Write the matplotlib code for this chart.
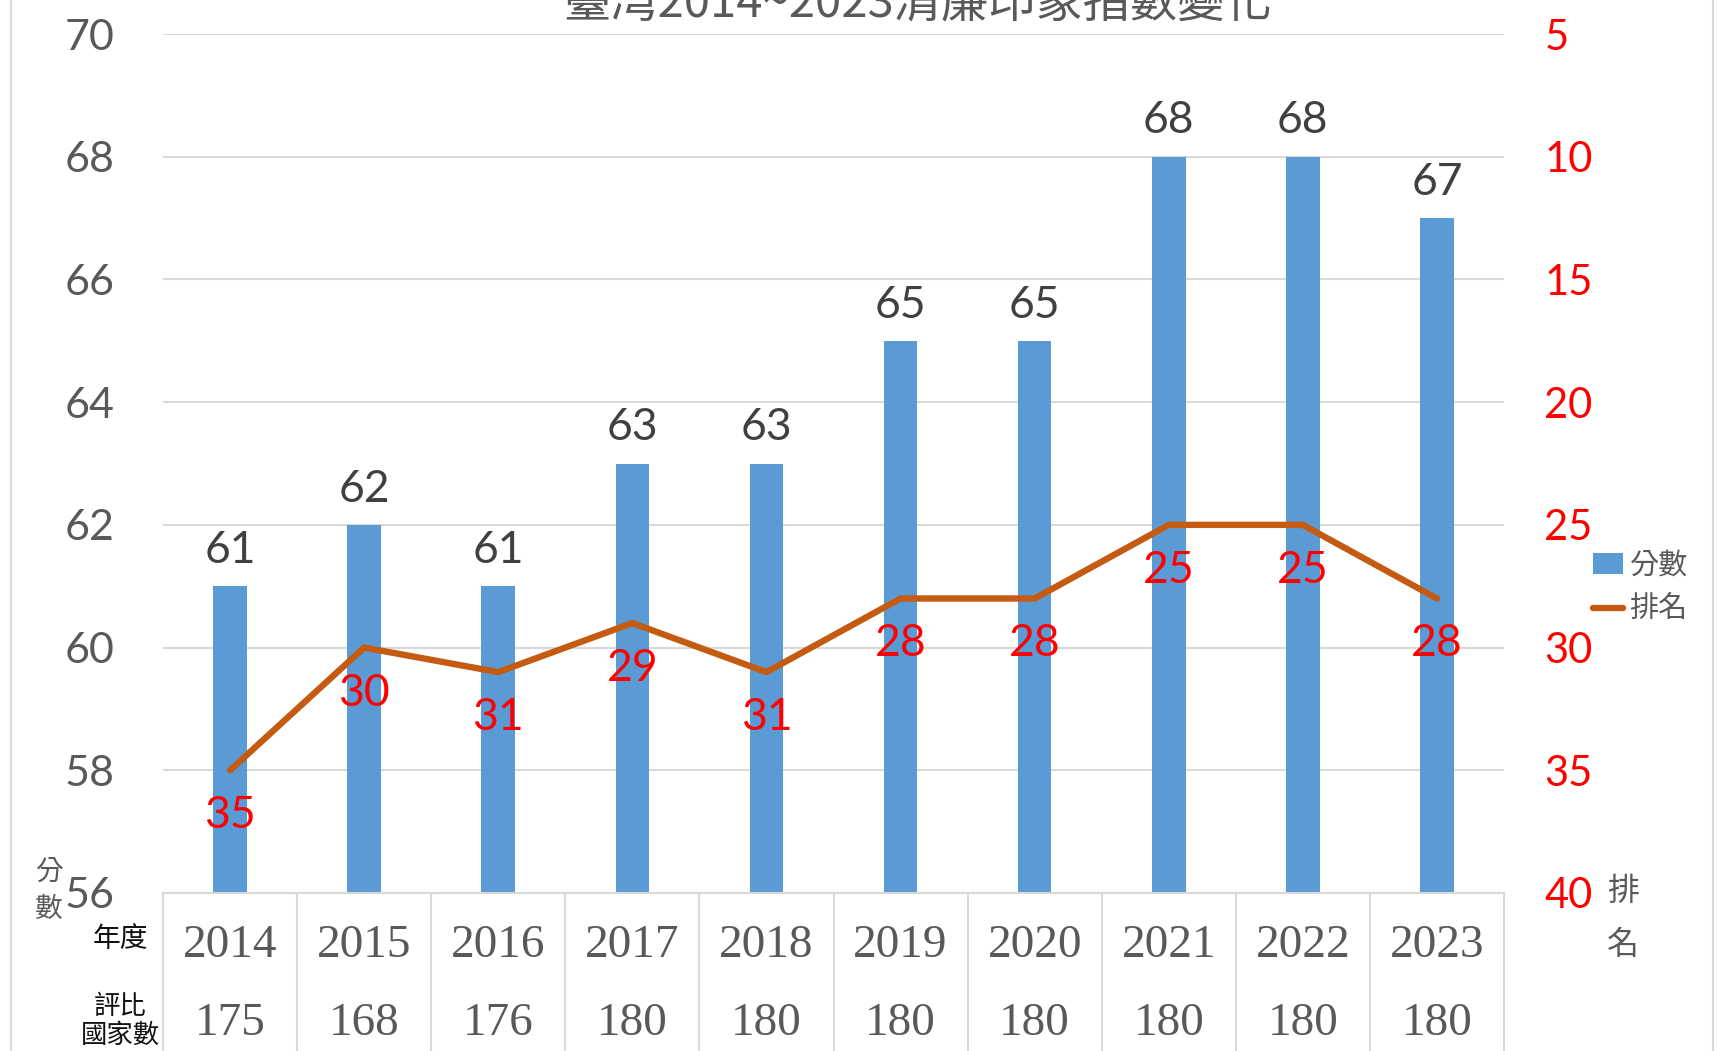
import matplotlib
matplotlib.use("Agg")
import matplotlib.pyplot as plt
from matplotlib.lines import Line2D
import matplotlib.transforms as mtransforms

years = ["2014", "2015", "2016", "2017", "2018", "2019", "2020", "2021", "2022", "2023"]
scores = [61, 62, 61, 63, 63, 65, 65, 68, 68, 67]
ranks = [35, 30, 31, 29, 31, 28, 28, 25, 25, 28]
countries = [175, 168, 176, 180, 180, 180, 180, 180, 180, 180]
title = "臺湾2014~2023清廉印象指數變化"

W, H = 1717, 1051
fig = plt.figure(figsize=(W / 100, H / 100), dpi=100)
fig.patch.set_facecolor("white")

CJK = ["Noto Sans CJK TC", "DejaVu Sans"]
NUM = ["Lato", "DejaVu Sans"]
SERIF = ["Liberation Serif", "DejaVu Serif"]
GRAY = "#595959"
DARK = "#404040"
BLUE = "#5B9BD5"
ORANGE = "#C55A11"
GRID = "#D9D9D9"

left, right, top, bottom = 163, 1504, 34, 893
ax = fig.add_axes([left / W, 1 - bottom / H, (right - left) / W, (bottom - top) / H])
x = list(range(len(years)))

ax.set_xlim(-0.5, len(years) - 0.5)
ax.yaxis.grid(True, color=GRID, lw=1.5)
ax.set_axisbelow(True)
bars = ax.bar(x, scores, width=0.25, color=BLUE, zorder=2, label="分數")
ax.set_ylim(56, 70)
ax.set_yticks(range(56, 71, 2))
ax.set_xticks([])
for s in ["top", "left", "right"]:
    ax.spines[s].set_visible(False)
ax.spines["bottom"].set_color(GRID)
ax.spines["bottom"].set_linewidth(1.5)
ax.tick_params(axis="y", length=0, pad=35, labelsize=31, labelcolor=GRAY)
for lab in ax.get_yticklabels():
    lab.set_family(NUM)

for xi, s in zip(x, scores):
    ax.annotate(str(s), (xi, s), xytext=(0, 11), textcoords="offset points",
                ha="center", va="bottom", fontsize=32, color=DARK, family=NUM)

ax2 = ax.twinx()
ax2.set_ylim(40, 5)
ax2.set_yticks(range(5, 41, 5))
line, = ax2.plot(x, ranks, color=ORANGE, lw=4.6, solid_capstyle="round", zorder=3, label="排名")
for s in ["top", "left", "right", "bottom"]:
    ax2.spines[s].set_visible(False)
ax2.tick_params(axis="y", length=0, pad=29, labelsize=30, labelcolor="#FF0000")
for lab in ax2.get_yticklabels():
    lab.set_family(NUM)
for xi, r in zip(x, ranks):
    ax2.annotate(str(r), (xi, r), xytext=(0, -18), textcoords="offset points",
                 ha="center", va="top", fontsize=32, color="#FF0000", family=NUM)

# table below
trans = mtransforms.blended_transform_factory(ax.transData, ax.transAxes)
for b in [i - 0.5 for i in range(len(years) + 1)]:
    ax.add_line(Line2D([b, b], [0, -0.3], transform=trans, color=GRID, lw=1.5, clip_on=False))
y_year = (bottom - 946) / (bottom - top)
y_cnt = (bottom - 1024) / (bottom - top)
for xi, yr, c in zip(x, years, countries):
    ax.text(xi, y_year, yr, transform=trans, ha="center", va="center", fontsize=34,
            color=GRAY, family=SERIF, clip_on=False)
    ax.text(xi, y_cnt, str(c), transform=trans, ha="center", va="center", fontsize=34,
            color=GRAY, family=SERIF, clip_on=False)

fig.text(120 / W, 1 - 939 / H, "年度", ha="center", va="center", fontsize=20, color="#111111", family=CJK)
fig.text(120 / W, 1 - 1006 / H, "評比", ha="center", va="center", fontsize=19, color="#111111", family=CJK)
fig.text(120 / W, 1 - 1035 / H, "國家數", ha="center", va="center", fontsize=19, color="#111111", family=CJK)

# axis labels
fig.text(49 / W, 1 - 873 / H, "分", ha="center", va="center", fontsize=20, color=GRAY, family=CJK)
fig.text(49 / W, 1 - 909 / H, "數", ha="center", va="center", fontsize=20, color=GRAY, family=CJK)
fig.text(1623 / W, 1 - 891 / H, "排", ha="center", va="center", fontsize=23, color=GRAY, family=CJK)
fig.text(1623 / W, 1 - 945 / H, "名", ha="center", va="center", fontsize=23, color=GRAY, family=CJK)

# legend
fig.legend([bars, line], ["分數", "排名"], loc="center left",
           bbox_to_anchor=(1578 / W, 1 - 588 / H), frameon=False,
           prop={"family": CJK, "size": 21}, labelcolor=GRAY,
           handlelength=1.05, handletextpad=0.2, labelspacing=0.5, borderpad=0)

# title (cut off at top, as in the reference)
fig.text(917 / W, 1 - 3 / H, title, ha="center", va="center", fontsize=34, color=GRAY, family=CJK)

# figure border lines
fig.add_artist(Line2D([11 / W, 11 / W], [0, 1], color=GRID, lw=1.5, transform=fig.transFigure))
fig.add_artist(Line2D([1713 / W, 1713 / W], [0, 1], color=GRID, lw=1.5, transform=fig.transFigure))

fig.savefig("out.png", dpi=100, facecolor="white")
